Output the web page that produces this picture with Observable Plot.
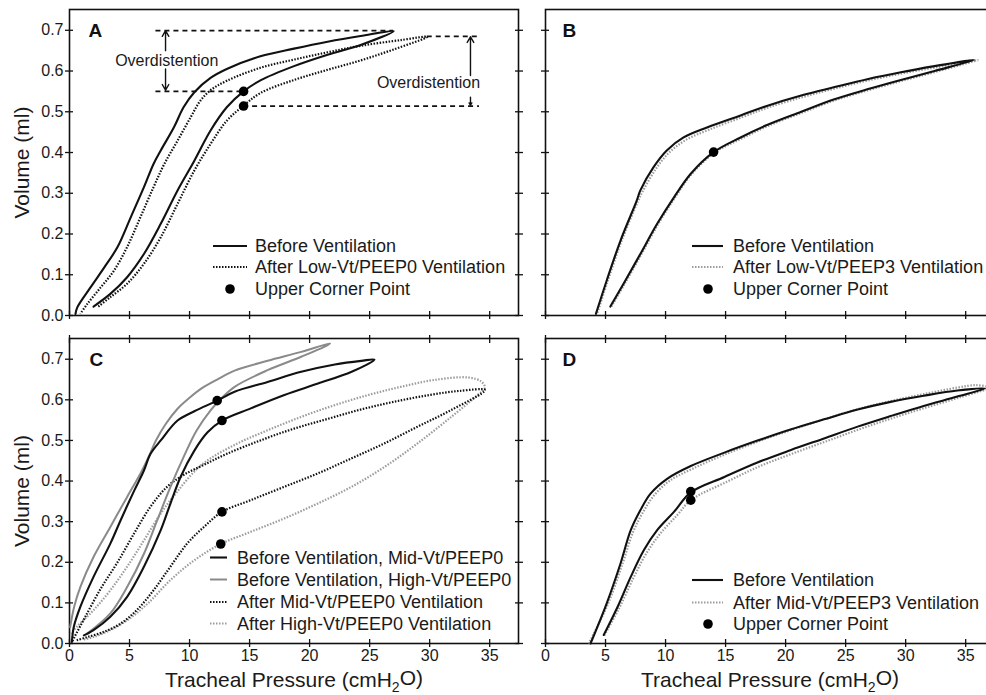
<!DOCTYPE html>
<html><head><meta charset="utf-8">
<script src="https://cdn.jsdelivr.net/npm/d3@7"></script>
<script src="https://cdn.jsdelivr.net/npm/@observablehq/plot@0.6"></script>
<style>
html,body{margin:0;padding:0;background:#fff;overflow:hidden;}
#wrap{position:relative;width:986px;height:695px;overflow:hidden;background:#fff;}
#wrap svg{position:absolute;}
</style></head><body><div id="wrap"></div>
<script>
// ---------- axis ticks ----------
const xTicks = [0, 5, 10, 15, 20, 25, 30, 35];
const yTicks = [0, 0.1, 0.2, 0.3, 0.4, 0.5, 0.6, 0.7];
const xDomain = [0, 37.4];
const yDomain = [0, 0.751];
const xTitle = "Tracheal Pressure (cmH2O)";
const yTitle = "Volume (ml)";

// ---------- Panel A: [pressure, volume]; inflation limb then deflation limb ----------
const aBefore = [[2.0,0.022],[3.4,0.053],[4.8,0.094],[6.2,0.151],[7.6,0.225],[9.0,0.307],[10.4,0.380],[11.75,0.454],[13.1,0.511],[14.5,0.550],[15.9,0.577],[18.7,0.612],[21.5,0.640],[24.25,0.664],[27.0,0.698],
  [24.25,0.686],[21.5,0.672],[18.7,0.655],[15.9,0.636],[13.1,0.605],[11.75,0.583],[10.4,0.548],[9.5,0.511],[8.7,0.462],[7.6,0.405],[7.0,0.372],[6.2,0.315],[5.1,0.241],[4.0,0.168],[2.9,0.118],[1.75,0.069],[0.65,0.020],[0.5,0.004]];
const aAfter = [[2.4,0.022],[3.4,0.045],[4.8,0.078],[6.2,0.127],[7.6,0.192],[9.0,0.274],[10.4,0.356],[11.75,0.421],[13.1,0.478],[14.5,0.515],[15.9,0.546],[18.7,0.578],[21.5,0.603],[24.25,0.626],[27.0,0.653],[29.8,0.684],
  [27.6,0.676],[24.25,0.662],[21.5,0.646],[18.7,0.628],[15.9,0.608],[13.1,0.576],[11.75,0.553],[10.9,0.527],[10.1,0.487],[9.0,0.429],[7.9,0.372],[7.0,0.315],[5.9,0.241],[4.8,0.168],[3.7,0.110],[2.6,0.069],[1.5,0.029],[0.9,0.004]];
const aCorner = [[14.5,0.550],[14.5,0.514]];
const aDashed = [[0.699,7.2,27.0],[0.550,7.2,14.5],[0.685,29.8,34.15],[0.514,14.5,34.15]]; // [volume, from, to]
const aArrows = [[8.0,0.650,0.699],[8.0,0.605,0.553],[33.4,0.589,0.684],[33.4,0.536,0.516]]; // [pressure, from, to]
const aNotes = [[8.1,0.626,"Overdistention"],[29.9,0.572,"Overdistention"]];
const legendA = ["Before Ventilation", "After Low-Vt/PEEP0 Ventilation", "Upper Corner Point"];

// ---------- Panel B ----------
const bBefore = [[5.4,0.022],[6.5,0.078],[7.9,0.151],[9.3,0.225],[10.7,0.290],[12.1,0.348],[14.0,0.401],[16.25,0.437],[18.5,0.468],[21.3,0.500],[24.0,0.530],[26.8,0.555],[29.6,0.578],[32.4,0.600],[35.7,0.627],
  [35.1,0.625],[32.4,0.612],[29.6,0.597],[26.8,0.580],[24.0,0.560],[21.3,0.540],[18.5,0.515],[16.25,0.491],[13.5,0.462],[11.5,0.437],[10.1,0.405],[9.0,0.364],[7.9,0.307],[7.6,0.282],[6.25,0.184],[5.1,0.086],[4.2,0.004]];
const bAfter = [[5.5,0.022],[6.6,0.078],[8.0,0.151],[9.4,0.225],[10.8,0.290],[12.2,0.348],[14.1,0.400],[16.4,0.435],[18.6,0.466],[21.4,0.498],[24.1,0.528],[26.9,0.553],[29.7,0.576],[32.5,0.598],[36.0,0.627],
  [35.2,0.622],[32.5,0.609],[29.7,0.594],[26.9,0.577],[24.1,0.557],[21.4,0.536],[18.6,0.511],[16.4,0.487],[13.7,0.457],[11.7,0.431],[10.3,0.400],[9.2,0.360],[8.1,0.305],[7.7,0.280],[6.35,0.184],[5.2,0.086],[4.3,0.004]];
const bCorner = [[14.0,0.401]];
const legendB = ["Before Ventilation", "After Low-Vt/PEEP3 Ventilation", "Upper Corner Point"];

// ---------- Panel C ----------
const cMidBefore = [[1.2,0.020],[2.0,0.033],[3.4,0.066],[4.8,0.115],[6.2,0.189],[7.6,0.279],[8.4,0.344],[9.25,0.410],[10.4,0.475],[11.5,0.520],[12.7,0.549],[15.1,0.579],[17.9,0.612],[20.7,0.640],[23.5,0.669],[25.4,0.699],
  [24.3,0.696],[22.1,0.687],[19.3,0.669],[16.5,0.644],[13.75,0.620],[12.3,0.598],[10.4,0.572],[9.0,0.549],[7.6,0.500],[6.75,0.467],[6.2,0.426],[5.4,0.377],[4.25,0.303],[3.4,0.246],[2.0,0.164],[0.9,0.090],[0.36,0.041],[0.2,0.004]];
const cHighBefore = [[1.5,0.025],[3.4,0.074],[4.8,0.139],[6.2,0.221],[7.3,0.303],[8.4,0.385],[9.5,0.459],[10.6,0.525],[11.75,0.574],[12.6,0.602],[13.75,0.632],[16.5,0.673],[19.3,0.706],[21.25,0.731],[21.7,0.739],
  [19.3,0.718],[16.5,0.696],[13.75,0.672],[12.3,0.650],[11.0,0.628],[10.0,0.605],[9.0,0.578],[8.0,0.540],[7.2,0.500],[6.6,0.460],[5.9,0.418],[4.8,0.361],[3.4,0.287],[2.0,0.213],[0.9,0.139],[0.4,0.092],[0.05,0.040]];
const cMidAfter = [[0.6,0.008],[1.5,0.016],[2.9,0.029],[4.25,0.049],[5.6,0.082],[7.0,0.131],[8.4,0.189],[9.8,0.246],[11.2,0.287],[12.7,0.324],[15.1,0.353],[17.9,0.386],[20.7,0.419],[23.5,0.456],[26.25,0.493],[29.0,0.534],[31.8,0.575],[34.6,0.624],
  [32.5,0.622],[30.0,0.612],[27.0,0.595],[24.25,0.576],[21.5,0.553],[18.7,0.529],[15.9,0.500],[13.1,0.467],[11.2,0.440],[9.5,0.415],[8.1,0.385],[6.75,0.337],[5.4,0.272],[4.0,0.200],[2.6,0.135],[1.3,0.065],[0.4,0.015],[0.2,0.003]];
const cHighAfter = [[1.2,0.010],[2.0,0.016],[3.4,0.033],[4.8,0.057],[6.5,0.098],[8.4,0.156],[10.4,0.205],[12.6,0.245],[15.1,0.275],[17.9,0.308],[20.7,0.345],[23.5,0.386],[26.25,0.435],[29.0,0.493],[31.8,0.558],[34.0,0.612],[34.6,0.630],
  [34.3,0.645],[33.2,0.655],[30.4,0.649],[27.6,0.632],[24.9,0.612],[22.1,0.587],[19.3,0.558],[16.5,0.525],[13.75,0.489],[11.0,0.440],[9.0,0.375],[7.6,0.320],[6.2,0.254],[4.8,0.189],[3.4,0.131],[2.0,0.082],[0.6,0.041],[0.1,0.025]];
const cCorner = [[12.3,0.598],[12.7,0.549],[12.7,0.324],[12.6,0.245]];
const legendC = ["Before Ventilation, Mid-Vt/PEEP0", "Before Ventilation, High-Vt/PEEP0", "After Mid-Vt/PEEP0 Ventilation", "After High-Vt/PEEP0 Ventilation"];

// ---------- Panel D ----------
const dBefore = [[4.85,0.021],[6.0,0.090],[7.1,0.164],[8.2,0.230],[9.3,0.279],[10.7,0.324],[12.1,0.372],[14.9,0.410],[17.6,0.445],[20.4,0.476],[23.2,0.505],[26.0,0.534],[28.75,0.560],[31.5,0.585],[34.3,0.608],[36.6,0.628],
  [34.3,0.623],[31.5,0.610],[28.75,0.595],[26.0,0.576],[23.2,0.552],[20.4,0.527],[17.6,0.499],[14.9,0.470],[12.1,0.437],[10.1,0.405],[8.75,0.369],[7.9,0.328],[7.1,0.279],[6.25,0.197],[5.1,0.099],[3.75,0.0]];
const dAfter = [[4.9,0.020],[6.1,0.085],[7.3,0.160],[8.4,0.222],[9.6,0.272],[11.0,0.317],[12.1,0.353],[15.1,0.398],[17.8,0.436],[20.6,0.468],[23.4,0.498],[26.2,0.528],[28.9,0.555],[31.7,0.581],[34.5,0.606],[36.9,0.630],
  [35.9,0.636],[34.3,0.630],[31.5,0.614],[28.75,0.597],[26.0,0.577],[23.2,0.552],[20.4,0.525],[17.6,0.496],[14.9,0.465],[12.3,0.431],[10.3,0.400],[9.0,0.363],[8.1,0.322],[7.3,0.275],[6.4,0.195],[5.2,0.097],[3.6,0.0]];
const dCorner = [[12.1,0.374],[12.1,0.353]];
const legendD = ["Before Ventilation", "After Mid-Vt/PEEP3 Ventilation", "Upper Corner Point"];

// ---------- styles ----------
const FONT = "'Liberation Sans', Arial, Helvetica, sans-serif";
const S = {
  solid:   {stroke: "#111", strokeWidth: 2.1, strokeLinecap: "round"},
  gray:    {stroke: "#8a8a8a", strokeWidth: 2, strokeLinecap: "round"},
  dotDark: {stroke: "#111", strokeWidth: 2.2, strokeDasharray: "1.5,1.5", strokeLinecap: "butt"},
  dotGray: {stroke: "#9c9c9c", strokeWidth: 2.2, strokeDasharray: "1.5,1.5", strokeLinecap: "butt"}
};
const pts = a => a.map(([p, v]) => ({p, v}));

function loop(arr, st) {
  return Plot.line(pts(arr), {x: "p", y: "v", curve: "catmull-rom", strokeLinejoin: "round", ...st});
}

function panel(o) {
  const tk = {tickSize: 8, fill: "none", label: null, stroke: "#111", strokeWidth: 1.3};
  const marks = [
    Plot.frame({stroke: "#111", strokeWidth: 1.6}),
    Plot.axisY(yTicks, {...tk, anchor: "left", dx: 4}),
    Plot.axisY(yTicks, {...tk, anchor: "right", dx: -4}),
    Plot.axisX(xTicks, {...tk, anchor: "bottom", dy: -4})
  ];
  if (o.topTicks) marks.push(Plot.axisX(xTicks, {...tk, anchor: "top", dy: 4}));
  if (o.yLabels) {
    marks.push(Plot.axisY(yTicks, {anchor: "left", tickSize: 0, tickPadding: 6, tickFormat: d3.format(".1f"), label: null, fontSize: 16, fill: "#1a1a1a"}));
    marks.push(Plot.text([yTitle], {text: d => d, frameAnchor: "left", dx: -47, rotate: -90, fontSize: 21, textAnchor: "middle", lineAnchor: "middle", fill: "#1a1a1a"}));
  }
  if (o.xLabels) {
    marks.push(Plot.axisX(xTicks, {anchor: "bottom", tickSize: 0, tickPadding: 6, tickFormat: d => d, label: null, fontSize: 16, fill: "#1a1a1a"}));
    marks.push(Plot.text([xTitle], {text: d => d, frameAnchor: "bottom", dy: 37, fontSize: 21, textAnchor: "middle", lineAnchor: "middle", fill: "#1a1a1a"}));
  }
  marks.push(Plot.text([o.letter], {text: d => d, frameAnchor: "top-left", dx: o.letterDx, dy: o.letterDy, fontSize: 19, fontWeight: "bold", textAnchor: "start", lineAnchor: "middle", fill: "#111"}));
  marks.push(...o.marks);
  marks.push(Plot.dot(pts(o.corner), {x: "p", y: "v", r: 4.8, fill: "#000", stroke: "none"}));

  const svg = Plot.plot({
    width: 530, height: o.height,
    marginLeft: 69, marginRight: 12, marginTop: o.marginTop, marginBottom: o.marginBottom,
    x: {domain: xDomain, label: null},
    y: {domain: yDomain, label: null},
    style: {fontFamily: FONT, fontSize: "16px", background: "transparent", overflow: "visible", color: "#111"},
    marks
  });
  svg.style.left = o.left + "px";
  svg.style.top = o.top + "px";

  // subscript in the x-axis title
  svg.querySelectorAll("text").forEach(t => {
    if (t.textContent === xTitle) {
      t.textContent = "";
      const s = d3.select(t);
      s.append("tspan").text("Tracheal Pressure (cmH");
      s.append("tspan").attr("font-size", "14px").attr("dy", "0.32em").text("2");
      s.append("tspan").attr("dy", "-0.32em").text("O)");
    }
  });

  // legend
  const g = d3.select(svg).append("g").attr("font-family", FONT).attr("font-size", 18)
    .attr("fill", "#1a1a1a").attr("text-anchor", "start");
  o.legend.forEach((lab, i) => {
    const y = o.leg.y[i], sw = o.leg.sw[i];
    if (sw === "dot") {
      g.append("circle").attr("cx", o.leg.dotX).attr("cy", y).attr("r", 4.8).attr("fill", "#000");
    } else {
      g.append("line").attr("x1", o.leg.x1).attr("x2", o.leg.x2).attr("y1", y).attr("y2", y)
        .attr("stroke", sw.stroke).attr("stroke-width", sw.strokeWidth)
        .attr("stroke-linecap", "butt")
        .attr("stroke-dasharray", sw.strokeDasharray || null);
    }
    g.append("text").attr("x", o.leg.tx).attr("y", y).attr("dy", "0.35em").attr("text-anchor", "start").text(lab);
  });
  document.getElementById("wrap").appendChild(svg);
}

// Panel A
panel({
  left: 0, top: 0, height: 330, marginTop: 9, marginBottom: 15,
  yLabels: true, xLabels: false, topTicks: false,
  letter: "A", letterDx: 19, letterDy: 21,
  corner: aCorner,
  marks: [
    Plot.ruleY(aDashed, {y: d => d[0], x1: d => d[1], x2: d => d[2], stroke: "#111", strokeWidth: 1.7, strokeDasharray: "5,4"}),
    Plot.arrow(aArrows, {x1: d => d[0], x2: d => d[0], y1: d => d[1], y2: d => d[2], stroke: "#111", strokeWidth: 1.4, headLength: 7}),
    Plot.text(aNotes, {x: d => d[0], y: d => d[1], text: d => d[2], fontSize: 16, fill: "#1a1a1a"}),
    loop(aAfter, S.dotDark),
    loop(aBefore, S.solid)
  ],
  legend: legendA,
  leg: {y: [246, 267, 289], x1: 213, x2: 247, tx: 255, dotX: 230, sw: [S.solid, S.dotDark, "dot"]}
});

// Panel B
panel({
  left: 476, top: 0, height: 330, marginTop: 9, marginBottom: 15,
  yLabels: false, xLabels: false, topTicks: false,
  letter: "B", letterDx: 17, letterDy: 21,
  corner: bCorner,
  marks: [loop(bAfter, S.dotGray), loop(bBefore, S.solid)],
  legend: legendB,
  leg: {y: [246, 267, 289], x1: 216, x2: 247, tx: 257, dotX: 232, sw: [S.solid, S.dotGray, "dot"]}
});

// Panel C
panel({
  left: 0, top: 320, height: 375, marginTop: 18, marginBottom: 52,
  yLabels: true, xLabels: true, topTicks: true,
  letter: "C", letterDx: 20, letterDy: 21.5,
  corner: cCorner,
  marks: [loop(cHighAfter, S.dotGray), loop(cMidAfter, S.dotDark), loop(cHighBefore, S.gray), loop(cMidBefore, S.solid)],
  legend: legendC,
  leg: {y: [237.5, 259.5, 282, 303.5], x1: 210, x2: 227, tx: 237, dotX: 0, sw: [S.solid, S.gray, S.dotDark, S.dotGray]}
});

// Panel D
panel({
  left: 476, top: 320, height: 375, marginTop: 18, marginBottom: 52,
  yLabels: false, xLabels: true, topTicks: true,
  letter: "D", letterDx: 17, letterDy: 21.5,
  corner: dCorner,
  marks: [loop(dAfter, S.dotGray), loop(dBefore, S.solid)],
  legend: legendD,
  leg: {y: [260, 282.5, 304], x1: 216, x2: 247, tx: 257, dotX: 232, sw: [S.solid, S.dotGray, "dot"]}
});
</script></body></html>
